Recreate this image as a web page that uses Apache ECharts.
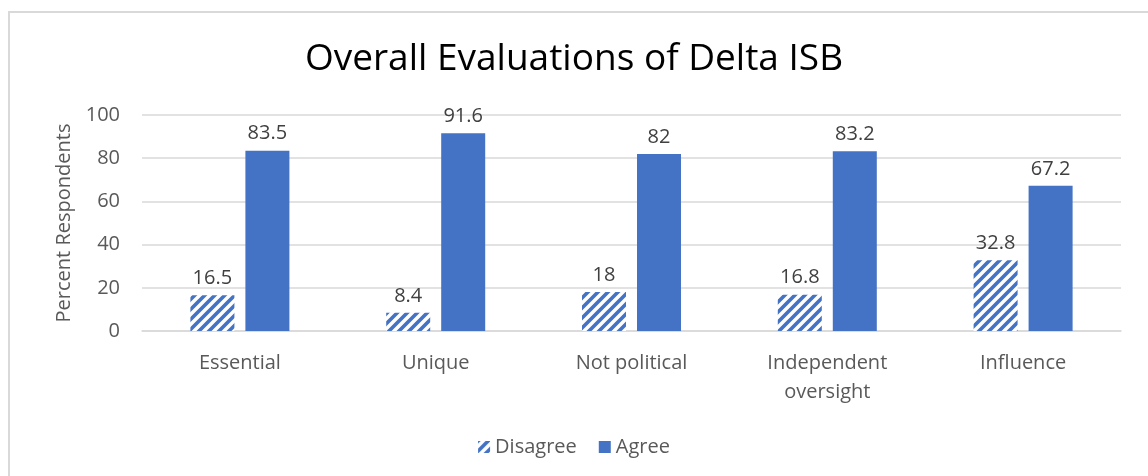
<!DOCTYPE html>
<html><head><meta charset="utf-8">
<script src="https://cdn.jsdelivr.net/npm/echarts@6/dist/echarts.min.js"></script>
<style>
html,body{margin:0;padding:0;background:#fff;overflow:hidden}
#frame{position:absolute;left:8px;top:11px;width:1160px;height:500px;border:2px solid #d9d9d9;box-sizing:border-box}
#c{position:absolute;left:0;top:0;width:1148px;height:476px}
</style></head>
<body><div id="frame"></div><div id="c"></div>
<script>
const categories = ['Essential','Unique','Not political','Independent\noversight','Influence'];
const disagree = [16.5, 8.4, 18, 16.8, 32.8];
const agree = [83.5, 91.6, 82, 83.2, 67.2];
const yTicks = [0,20,40,60,80,100];

const blue = '#4472C4';
function hatch(){
  const s = 10, cv = document.createElement('canvas');
  cv.width = s; cv.height = s;
  const g = cv.getContext('2d');
  g.fillStyle = '#fff'; g.fillRect(0,0,s,s);
  g.strokeStyle = blue; g.lineWidth = 3.6;
  g.beginPath();
  g.moveTo(-2, s+2); g.lineTo(s+2, -2);
  g.moveTo(-2, 2); g.lineTo(2, -2);
  g.moveTo(s-2, s+2); g.lineTo(s+2, s-2);
  g.stroke();
  return {image: cv, repeat: 'repeat'};
}
const pat = hatch();
const font = '"Open Sans", "Noto Sans", sans-serif';
const chart = echarts.init(document.getElementById('c'));
chart.setOption({
  animation:false,
  title:{text:'Overall Evaluations of Delta ISB', left:'center', top:36,
    textStyle:{fontFamily:font, fontSize:37, fontWeight:'normal', color:'#000'}},
  legend:{bottom:14, left:'center', itemWidth:12, itemHeight:12, itemGap:22,
    textStyle:{fontFamily:font, fontSize:20, color:'#595959'},
    data:[{name:'Disagree', icon:'rect'},{name:'Agree', icon:'rect'}]},
  grid:{left:142, right:27, top:115, bottom:145},
  xAxis:{type:'category', data:categories,
    axisLine:{lineStyle:{color:'#d9d9d9', width:1.5}}, axisTick:{show:false},
    axisLabel:{fontFamily:font, fontSize:20, color:'#595959', margin:18, lineHeight:29}},
  yAxis:{type:'value', min:0, max:100, interval:20,
    name:'Percent Respondents', nameLocation:'middle', nameGap:68, nameRotate:90,
    nameTextStyle:{fontFamily:font, fontSize:20, color:'#595959'},
    axisLine:{show:false}, axisTick:{show:false},
    splitLine:{lineStyle:{color:'#d9d9d9', width:1.5}},
    axisLabel:{fontFamily:font, fontSize:20, color:'#595959', margin:22,
      formatter:v=> yTicks.includes(v)? String(v):''}},
  series:[
    {name:'Disagree', type:'bar', data:disagree, barWidth:44, barGap:'25%',
     itemStyle:{color:pat},
     label:{show:true, position:'top', distance:7, fontFamily:font, fontSize:20, color:'#404040'}},
    {name:'Agree', type:'bar', data:agree, barWidth:44,
     itemStyle:{color:blue},
     label:{show:true, position:'top', distance:7, fontFamily:font, fontSize:20, color:'#404040'}}
  ]
});
</script></body></html>
